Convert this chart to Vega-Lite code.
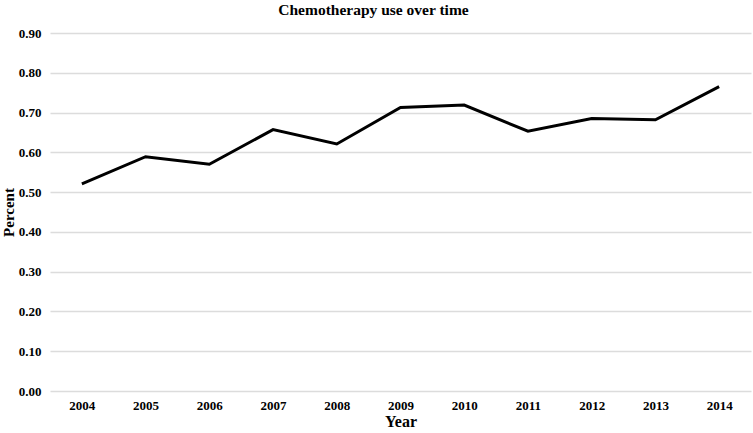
{
  "$schema": "https://vega.github.io/schema/vega-lite/v6.json",
  "autosize": "none",
  "width": 701,
  "height": 358,
  "padding": {"left": 50, "top": 33, "right": 2, "bottom": 42},
  "background": "white",
  "title": {
    "text": "Chemotherapy use over time",
    "font": "Liberation Serif",
    "fontSize": 15.5,
    "fontWeight": "bold",
    "color": "black",
    "anchor": "middle",
    "dx": -27,
    "offset": 9
  },
  "data": {
    "values": [
      {"Year": "2004", "Percent": 0.521},
      {"Year": "2005", "Percent": 0.589},
      {"Year": "2006", "Percent": 0.570},
      {"Year": "2007", "Percent": 0.657},
      {"Year": "2008", "Percent": 0.621},
      {"Year": "2009", "Percent": 0.713},
      {"Year": "2010", "Percent": 0.719},
      {"Year": "2011", "Percent": 0.653},
      {"Year": "2012", "Percent": 0.685},
      {"Year": "2013", "Percent": 0.682},
      {"Year": "2014", "Percent": 0.765}
    ]
  },
  "mark": {"type": "line", "color": "black", "strokeWidth": 3, "strokeJoin": "miter"},
  "encoding": {
    "x": {
      "field": "Year",
      "type": "ordinal",
      "scale": {"type": "point", "padding": 0.5},
      "axis": {
        "title": "Year",
        "labelAngle": 0,
        "labelFont": "Liberation Serif",
        "labelFontSize": 13,
        "labelFontWeight": "bold",
        "labelColor": "black",
        "labelPadding": 8,
        "titleFont": "Liberation Serif",
        "titleFontSize": 16,
        "titleFontWeight": "bold",
        "titleColor": "black",
        "titlePadding": 1,
        "domain": false,
        "ticks": false,
        "grid": false
      }
    },
    "y": {
      "field": "Percent",
      "type": "quantitative",
      "scale": {"domain": [0, 0.9], "nice": false},
      "axis": {
        "title": "Percent",
        "values": [0, 0.1, 0.2, 0.3, 0.4, 0.5, 0.6, 0.7, 0.8, 0.9],
        "format": ".2f",
        "labelFont": "Liberation Serif",
        "labelFontSize": 13,
        "labelFontWeight": "bold",
        "labelColor": "black",
        "labelPadding": 9,
        "titleFont": "Liberation Serif",
        "titleFontSize": 15,
        "titleFontWeight": "bold",
        "titleColor": "black",
        "titlePadding": 2,
        "domain": false,
        "ticks": false,
        "grid": true,
        "gridColor": "#dcdcdc",
        "gridWidth": 1.5
      }
    }
  },
  "config": {"view": {"stroke": null}}
}
